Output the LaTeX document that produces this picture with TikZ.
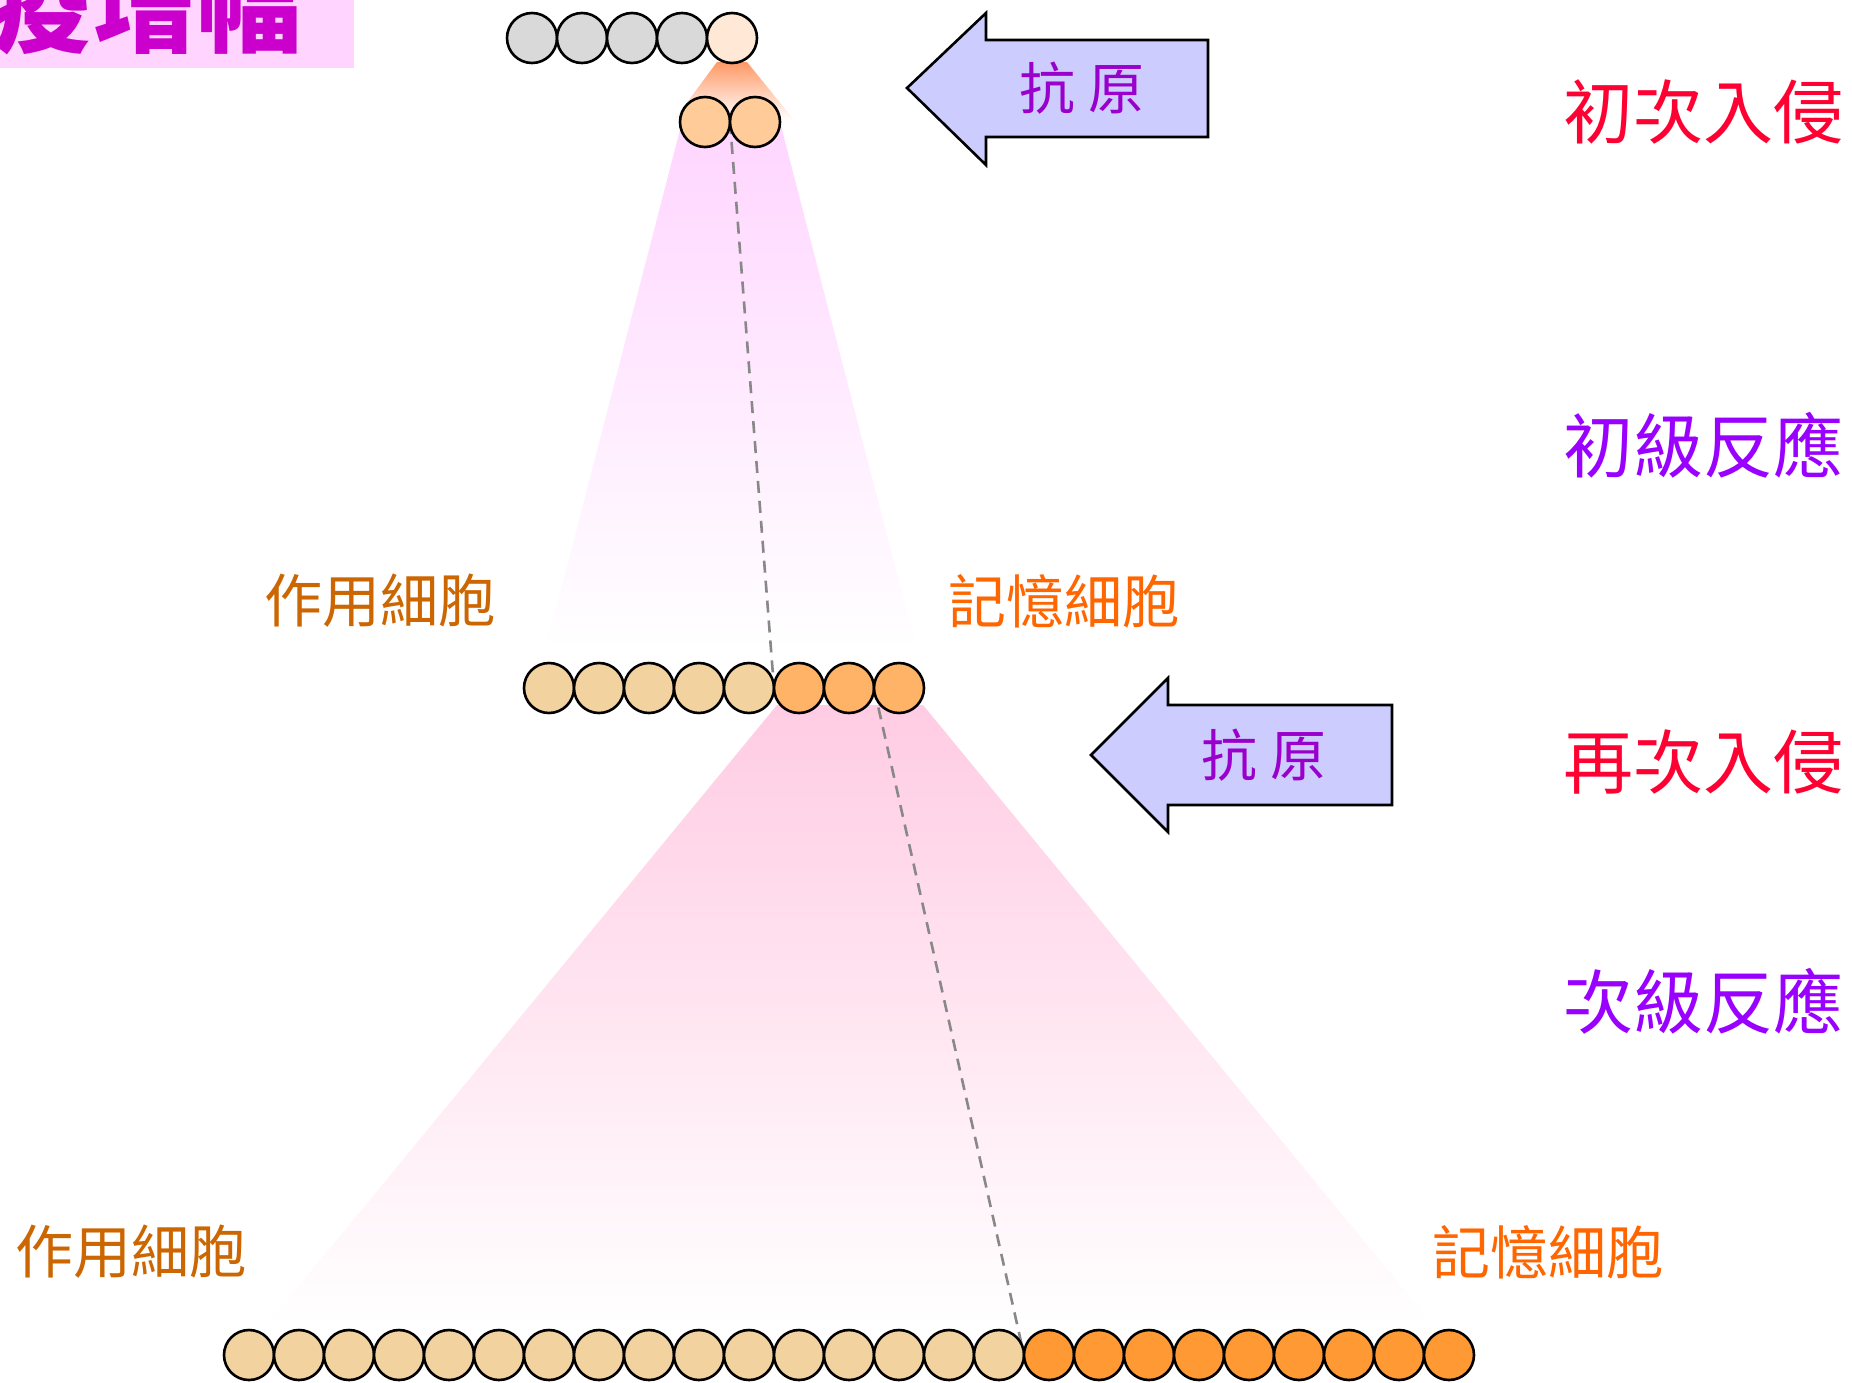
\documentclass[tikz,border=0pt]{standalone}
\usepackage{fontspec}
\newfontfamily\cjk{Noto Sans CJK TC}
\usetikzlibrary{calc,backgrounds}
\definecolor{titlebg}{HTML}{FFD5FF}
\definecolor{titlefg}{HTML}{CC00CC}
\definecolor{cgray}{HTML}{D9D9D9}
\definecolor{cpale}{HTML}{FFE9D6}
\definecolor{cpeach}{HTML}{FFCC99}
\definecolor{ctan}{HTML}{F2D29F}
\definecolor{corange}{HTML}{FFB366}
\definecolor{cdeep}{HTML}{FF9933}
\definecolor{shorange}{HTML}{FF9966}
\definecolor{shpink}{HTML}{FFD5FF}
\definecolor{shrose}{HTML}{FFCCE3}
\definecolor{arrowfill}{HTML}{CCCCFF}
\definecolor{arrowtext}{HTML}{9900CC}
\definecolor{effcol}{HTML}{CC6600}
\definecolor{memcol}{HTML}{FF6600}
\definecolor{redlab}{HTML}{FF0033}
\definecolor{purlab}{HTML}{9900FF}
\definecolor{dashgray}{HTML}{888888}
\begin{document}
\begin{tikzpicture}[x=0.5pt,y=-0.5pt,
  cell/.style={circle, draw=black, line width=1.3pt, minimum size=25pt, inner sep=0pt},
  dashline/.style={draw=dashgray, line width=1.3pt, dash pattern=on 6pt off 4pt},
  antigen/.style={fill=arrowfill, draw=black, line width=1.3pt, line join=miter},
  antext/.style={text=arrowtext, font=\cjk\fontsize{28pt}{34pt}\selectfont, inner sep=0pt},
  phase/.style={font=\cjk\fontsize{35pt}{40pt}\selectfont, inner sep=0pt},
  celllab/.style={font=\cjk\fontsize{29pt}{34pt}\selectfont, inner sep=0pt}]
\useasboundingbox (0,0) rectangle (1852,1382);

% title
\fill[titlebg] (0,0) rectangle (354,68);
\begin{scope}
\clip (0,0) rectangle (354,68);
\node[anchor=base east, text=titlefg, font=\cjk\bfseries\fontsize{52pt}{60pt}\selectfont, inner sep=0pt] (title) at (302,44) {免疫增幅};
\end{scope}

% cells
\foreach \i in {1,...,4} \node[cell, fill=cgray] (t\i) at ({482+50*\i},38) {};
\node[cell, fill=cpale] (t5) at (732,38) {};
\node[cell, fill=cpeach] (s1) at (705,122) {};
\node[cell, fill=cpeach] (s2) at (755,122) {};
\foreach \i in {1,...,5} \node[cell, fill=ctan] (m\i) at ({499+50*\i},688) {};
\foreach \i in {6,...,8} \node[cell, fill=corange] (m\i) at ({499+50*\i},688) {};
\foreach \i in {1,...,16} \node[cell, fill=ctan] (b\i) at ({199+50*\i},1355) {};
\foreach \i in {17,...,25} \node[cell, fill=cdeep] (b\i) at ({199+50*\i},1355) {};

% background: cones and dashed lines
\begin{scope}[on background layer]
\fill[white] (0,0) rectangle (1852,1382);
\fill[titlebg] (0,0) rectangle (354,68);
\shade[top color=shorange, bottom color=white] (717,62) -- (747,62) -- (794,120) -- (674,120) -- cycle;
\shade[top color=shpink, bottom color=white] (682,122) -- (780,122) -- (916,648) -- (546,648) -- cycle;
\shade[top color=shrose, bottom color=white] (777,705) -- (923,705) -- (1433,1325) -- (267,1325) -- cycle;
\draw[dashline] ($(s1)!0.5!(s2)$) -- ($(m5)!0.5!(m6)$);
\draw[dashline] ($(m7)!0.5!(m8)$) -- ($(b16)!0.5!(b17)$);
\end{scope}

% antigen arrows
\draw[antigen] (907,88) -- (986,13) -- (986,40) -- (1208,40) -- (1208,137) -- (986,137) -- (986,165) -- cycle;
\node[antext] (ag1) at (1082,88) {抗 原};
\draw[antigen] (1091,755) -- (1168,678) -- (1168,705) -- (1392,705) -- (1392,805) -- (1168,805) -- (1168,832) -- cycle;
\node[antext] (ag2) at (1264,755) {抗 原};

% phase labels
\node[phase, text=redlab] (p1) at (1703,112) {初次入侵};
\node[phase, text=purlab] (p2) at (1703,445) {初級反應};
\node[phase, text=redlab] (p3) at (1703,762) {再次入侵};
\node[phase, text=purlab] (p4) at (1703,1001) {次級反應};

% cell labels
\node[celllab, text=effcol] (e1) at (380,601) {作用細胞};
\node[celllab, text=memcol] (r1) at (1064,601) {記憶細胞};
\node[celllab, text=effcol] (e2) at (131,1252) {作用細胞};
\node[celllab, text=memcol] (r2) at (1548,1252) {記憶細胞};
\end{tikzpicture}
\end{document}
